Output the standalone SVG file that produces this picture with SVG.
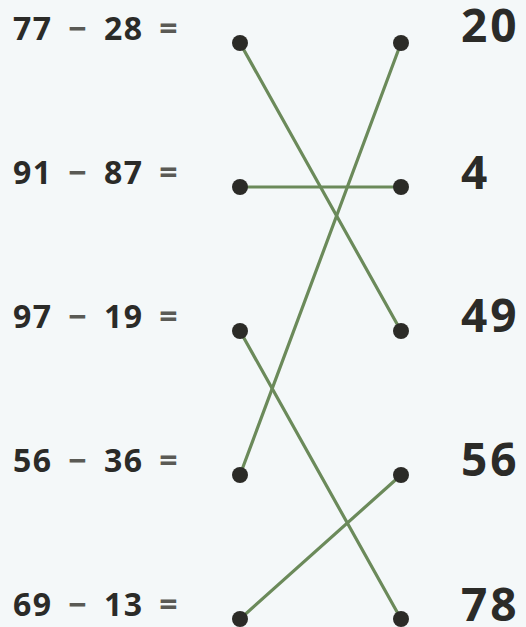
<svg xmlns="http://www.w3.org/2000/svg" width="526" height="627" viewBox="0 0 526 627">
<style>
.bg{fill:#f4f8f9}
.lbl{font-family:"Open Sans","Liberation Sans",sans-serif;font-weight:700;font-size:32px;letter-spacing:1.5px;fill:#2b2b28}
.op{fill:#5a5a55;letter-spacing:0}
.ans{font-family:"Open Sans","Liberation Sans",sans-serif;font-weight:700;font-size:46px;letter-spacing:3px;fill:#2b2b28}
.ln{stroke:#6b8a5a;stroke-width:3.2;stroke-linecap:round;fill:none}
.dot{fill:#2b2b27}
</style>
<rect class="bg" x="0" y="0" width="526" height="627"/>
<g id="connectors">
<line class="ln" x1="240" y1="43" x2="401" y2="331"/>
<line class="ln" x1="240" y1="187" x2="401" y2="187"/>
<line class="ln" x1="240" y1="331" x2="401" y2="619"/>
<line class="ln" x1="240" y1="475" x2="401" y2="43"/>
<line class="ln" x1="240" y1="619" x2="401" y2="475"/>
</g>
<g id="left1"><text class="lbl" y="40"><tspan x="13">77</tspan><tspan class="op" x="77.5" text-anchor="middle">−</tspan><tspan x="104">28</tspan><tspan class="op" x="168.5" text-anchor="middle">=</tspan></text><circle class="dot" cx="240" cy="43" r="8"/></g>
<g id="left2"><text class="lbl" y="184"><tspan x="13">91</tspan><tspan class="op" x="77.5" text-anchor="middle">−</tspan><tspan x="104">87</tspan><tspan class="op" x="168.5" text-anchor="middle">=</tspan></text><circle class="dot" cx="240" cy="187" r="8"/></g>
<g id="left3"><text class="lbl" y="328"><tspan x="13">97</tspan><tspan class="op" x="77.5" text-anchor="middle">−</tspan><tspan x="104">19</tspan><tspan class="op" x="168.5" text-anchor="middle">=</tspan></text><circle class="dot" cx="240" cy="331" r="8"/></g>
<g id="left4"><text class="lbl" y="472"><tspan x="13">56</tspan><tspan class="op" x="77.5" text-anchor="middle">−</tspan><tspan x="104">36</tspan><tspan class="op" x="168.5" text-anchor="middle">=</tspan></text><circle class="dot" cx="240" cy="475" r="8"/></g>
<g id="left5"><text class="lbl" y="616"><tspan x="13">69</tspan><tspan class="op" x="77.5" text-anchor="middle">−</tspan><tspan x="104">13</tspan><tspan class="op" x="168.5" text-anchor="middle">=</tspan></text><circle class="dot" cx="240" cy="619" r="8"/></g>
<g id="right1"><circle class="dot" cx="401" cy="43" r="8"/><text class="ans" x="461" y="42">20</text></g>
<g id="right2"><circle class="dot" cx="401" cy="187" r="8"/><text class="ans" x="461" y="189">4</text></g>
<g id="right3"><circle class="dot" cx="401" cy="331" r="8"/><text class="ans" x="461" y="332">49</text></g>
<g id="right4"><circle class="dot" cx="401" cy="475" r="8"/><text class="ans" x="461" y="476">56</text></g>
<g id="right5"><circle class="dot" cx="401" cy="619" r="8"/><text class="ans" x="461" y="621">78</text></g>
</svg>
